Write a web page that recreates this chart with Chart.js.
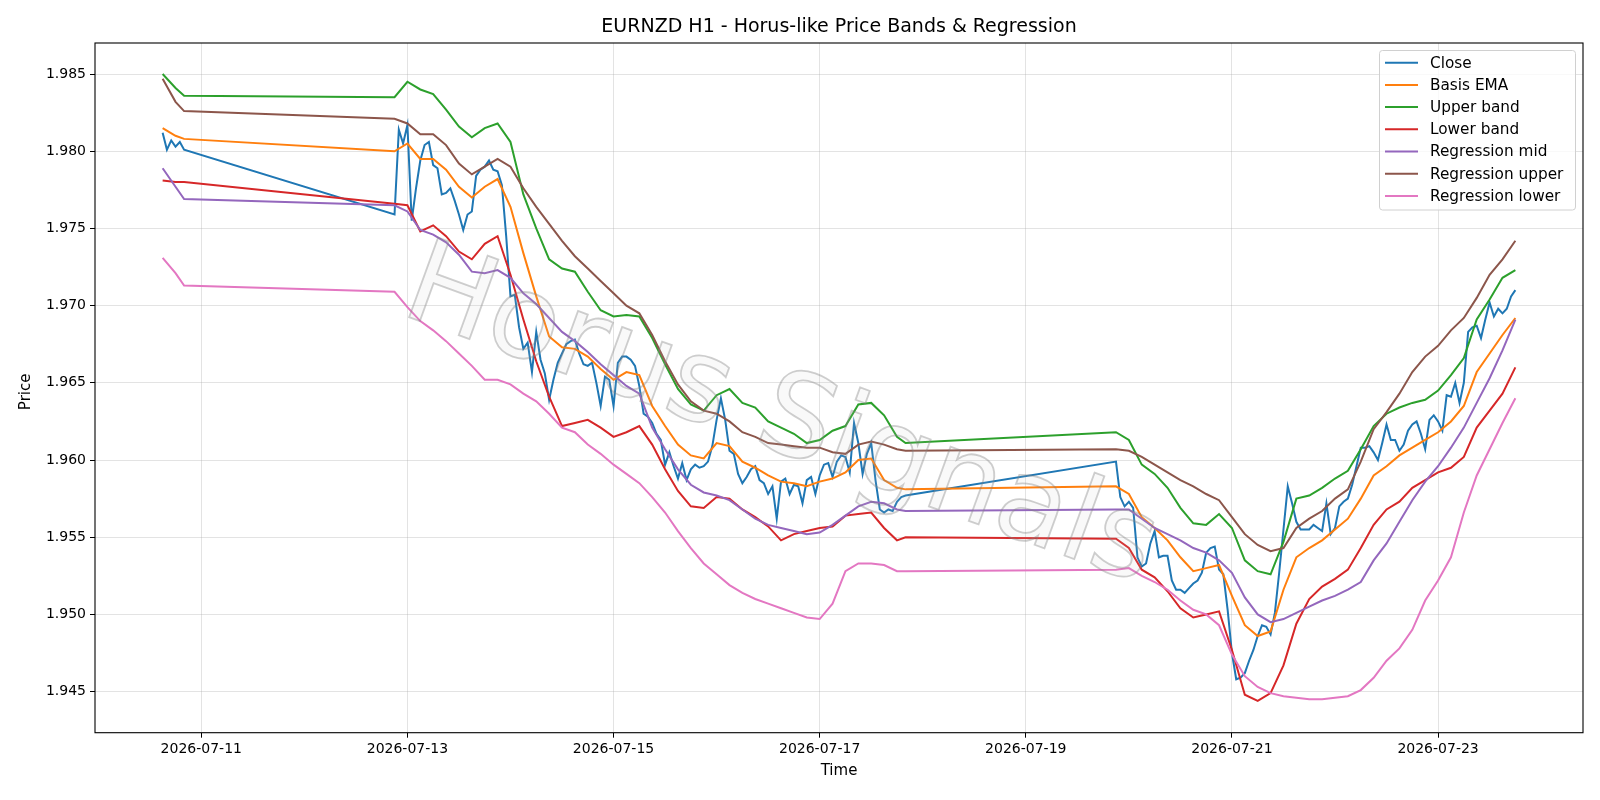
<!DOCTYPE html>
<html>
<head>
<meta charset="utf-8">
<title>EURNZD H1 - Horus-like Price Bands & Regression</title>
<script src="https://cdn.jsdelivr.net/npm/chart.js@4.4.1/dist/chart.umd.min.js"></script>
<style>
  html, body { margin: 0; padding: 0; background: #fff; }
  #wrap { width: 1600px; height: 800px; }
</style>
</head>
<body>
<div id="wrap"><canvas id="chart" width="1600" height="800"></canvas></div>
<script>
// time is counted in hours from 2026-07-10 00:00 (H1 bars, weekend gaps)
const closeSegments = [[15, 20], [69, 188], [237, 330]];

const closeValues = [
  1.9812, 1.9801, 1.9807, 1.9803, 1.9806, 1.9801,
  // 07-12 21:00 .. 07-17 20:00
  1.9759, 1.9814, 1.9805, 1.9817, 1.9755, 1.9776, 1.9794, 1.9804, 1.9806, 1.9791, 1.9789, 1.9772,
  1.9773, 1.9776, 1.9768, 1.9759, 1.9749, 1.9759, 1.9761, 1.9784, 1.9788, 1.9790, 1.9794, 1.9788,
  1.9787, 1.9778, 1.9745, 1.9706, 1.9707, 1.9686, 1.9672, 1.9676, 1.9657, 1.9683, 1.9665, 1.9656,
  1.9639, 1.9652, 1.9663, 1.9669, 1.9675, 1.9677, 1.9678, 1.9669, 1.9662, 1.9661, 1.9663, 1.9650,
  1.9635, 1.9654, 1.9652, 1.9635, 1.9663, 1.9667, 1.9667, 1.9665, 1.9661, 1.9648, 1.9630, 1.9628,
  1.9624, 1.9617, 1.9613, 1.9597, 1.9605, 1.9596, 1.9588, 1.9598, 1.9587, 1.9594, 1.9597, 1.9595,
  1.9596, 1.9599, 1.9609, 1.9626, 1.9640, 1.9626, 1.9606, 1.9604, 1.9591, 1.9585, 1.9589, 1.9594,
  1.9596, 1.9587, 1.9585, 1.9578, 1.9583, 1.9562, 1.9586, 1.9588, 1.9578, 1.9584, 1.9583, 1.9572,
  1.9587, 1.9589, 1.9578, 1.9590, 1.9597, 1.9598, 1.9589, 1.9599, 1.9603, 1.9602, 1.9592, 1.9624,
  1.9611, 1.9591, 1.9604, 1.9611, 1.9587, 1.9568, 1.9566, 1.9568, 1.9567, 1.9573, 1.9576, 1.9577,
  // 07-19 21:00 .. 07-23 18:00
  1.9599, 1.9576, 1.9570, 1.9573, 1.9569, 1.9537, 1.9531, 1.9533, 1.9546, 1.9554, 1.9537, 1.9538,
  1.9538, 1.9522, 1.9516, 1.9516, 1.9514, 1.9517, 1.9520, 1.9522, 1.9527, 1.9540, 1.9543, 1.9544,
  1.9529, 1.9526, 1.9503, 1.9475, 1.9458, 1.9459, 1.9462, 1.9470, 1.9477, 1.9486, 1.9493, 1.9492,
  1.9487, 1.9501, 1.9527, 1.9555, 1.9583, 1.9572, 1.9560, 1.9555, 1.9555, 1.9555, 1.9558, 1.9556,
  1.9554, 1.9572, 1.9552, 1.9556, 1.9570, 1.9573, 1.9575, 1.9584, 1.9596, 1.9608, 1.9608, 1.9609,
  1.9605, 1.9600, 1.9611, 1.9623, 1.9613, 1.9613, 1.9606, 1.9610, 1.9619, 1.9623, 1.9625, 1.9617,
  1.9607, 1.9626, 1.9629, 1.9625, 1.9619, 1.9642, 1.9641, 1.9650, 1.9637, 1.9650, 1.9683, 1.9686,
  1.9687, 1.9679, 1.9691, 1.9702, 1.9693, 1.9698, 1.9695, 1.9698, 1.9706, 1.9710
];

// the smoother series, read every 3 hours
const bandHours = [
  15, 18, 20,
  69, 72, 75, 78, 81, 84, 87, 90, 93, 96,
  99, 102, 105, 108, 111, 114, 117, 120, 123, 126,
  129, 132, 135, 138, 141, 144, 147, 150, 153, 156,
  159, 162, 165, 168, 171, 174, 177, 180, 183, 186, 188,
  237, 240, 243, 246, 249, 252, 255, 258, 261, 264,
  267, 270, 273, 276, 279, 282, 285, 288, 291, 294,
  297, 300, 303, 306, 309, 312, 315, 318, 321, 324, 327, 330
];

const basisEma = [
  1.9815, 1.9810, 1.9808,
  1.9800, 1.9805, 1.9795, 1.9795, 1.9788, 1.9777, 1.9770, 1.9777, 1.9782, 1.9764,
  1.9734, 1.9706, 1.9680, 1.9673, 1.9672, 1.9667, 1.9659, 1.9652, 1.9657, 1.9655,
  1.9635, 1.9622, 1.9610, 1.9603, 1.9601, 1.9611, 1.9609, 1.9599, 1.9595, 1.9590,
  1.9586, 1.9585, 1.9583, 1.9586, 1.9588, 1.9592, 1.9600, 1.9601, 1.9587, 1.9582, 1.9581,
  1.9583, 1.9578, 1.9563, 1.9556, 1.9548, 1.9537, 1.9528, 1.9530, 1.9532, 1.9512,
  1.9493, 1.9486, 1.9489, 1.9516, 1.9537, 1.9543, 1.9548, 1.9555, 1.9562, 1.9575,
  1.9590, 1.9596, 1.9603, 1.9608, 1.9613, 1.9618, 1.9625, 1.9635, 1.9657, 1.9669, 1.9681, 1.9692
];

const upperBand = [
  1.9850, 1.9841, 1.9836,
  1.9835, 1.9845, 1.9840, 1.9837, 1.9827, 1.9816, 1.9809, 1.9815, 1.9818, 1.9806,
  1.9772, 1.9750, 1.9730, 1.9724, 1.9722, 1.9709, 1.9697, 1.9693, 1.9694, 1.9693,
  1.9679, 1.9662, 1.9646, 1.9636, 1.9632, 1.9642, 1.9646, 1.9637, 1.9634, 1.9625,
  1.9621, 1.9617, 1.9611, 1.9613, 1.9619, 1.9622, 1.9636, 1.9637, 1.9629, 1.9615, 1.9611,
  1.9618, 1.9613, 1.9597, 1.9591, 1.9582, 1.9569, 1.9559, 1.9558, 1.9565, 1.9556,
  1.9535, 1.9528, 1.9526, 1.9547, 1.9575, 1.9577, 1.9582, 1.9588, 1.9593, 1.9607,
  1.9622, 1.9630, 1.9634, 1.9637, 1.9639, 1.9645, 1.9655, 1.9666, 1.9691, 1.9704, 1.9718, 1.9723
];

const lowerBand = [
  1.9781, 1.9780, 1.9780,
  1.9766, 1.9765, 1.9748, 1.9752, 1.9745, 1.9735, 1.9730, 1.9740, 1.9745, 1.9720,
  1.9691, 1.9664, 1.9641, 1.9622, 1.9624, 1.9626, 1.9621, 1.9615, 1.9618, 1.9622,
  1.9610, 1.9594, 1.9580, 1.9570, 1.9569, 1.9576, 1.9575, 1.9568, 1.9563, 1.9557,
  1.9548, 1.9552, 1.9554, 1.9556, 1.9557, 1.9564, 1.9565, 1.9566, 1.9556, 1.9548, 1.9550,
  1.9549, 1.9543, 1.9529, 1.9524, 1.9515, 1.9504, 1.9498, 1.9500, 1.9502, 1.9477,
  1.9448, 1.9444, 1.9449, 1.9467, 1.9494, 1.9510, 1.9518, 1.9523, 1.9529, 1.9543,
  1.9558, 1.9568, 1.9573, 1.9582, 1.9587, 1.9592, 1.9595, 1.9602, 1.9621, 1.9632, 1.9643, 1.9660
];

const regMid = [
  1.9789, 1.9777, 1.9769,
  1.9765, 1.9761, 1.9749, 1.9746, 1.9741, 1.9733, 1.9722, 1.9721, 1.9723, 1.9718,
  1.9708, 1.9701, 1.9692, 1.9683, 1.9677, 1.9670, 1.9662, 1.9655, 1.9648, 1.9643,
  1.9621, 1.9607, 1.9594, 1.9584, 1.9579, 1.9577, 1.9574, 1.9568, 1.9562, 1.9558,
  1.9556, 1.9554, 1.9552, 1.9553, 1.9558, 1.9564, 1.9570, 1.9573, 1.9572, 1.9568, 1.9567,
  1.9568, 1.9568, 1.9562, 1.9556, 1.9552, 1.9548, 1.9543, 1.9540, 1.9535, 1.9527,
  1.9511, 1.9500, 1.9495, 1.9497, 1.9501, 1.9505, 1.9509, 1.9512, 1.9516, 1.9521,
  1.9535, 1.9546, 1.9560, 1.9574, 1.9586, 1.9596, 1.9608, 1.9621, 1.9637, 1.9653, 1.9671, 1.9691
];

const regUpper = [
  1.9847, 1.9832, 1.9826,
  1.9821, 1.9818, 1.9811, 1.9811, 1.9804, 1.9792, 1.9785, 1.9790, 1.9795, 1.9790,
  1.9776, 1.9764, 1.9753, 1.9742, 1.9732, 1.9724, 1.9716, 1.9708, 1.9700, 1.9695,
  1.9681, 1.9664, 1.9649, 1.9638, 1.9632, 1.9630, 1.9625, 1.9618, 1.9615, 1.9611,
  1.9610, 1.9609, 1.9608, 1.9608, 1.9605, 1.9604, 1.9610, 1.9612, 1.9610, 1.9607, 1.9606,
  1.9607, 1.9606, 1.9602, 1.9597, 1.9592, 1.9587, 1.9583, 1.9578, 1.9574, 1.9563,
  1.9552, 1.9545, 1.9541, 1.9543, 1.9556, 1.9562, 1.9567, 1.9575, 1.9581, 1.9599,
  1.9620, 1.9631, 1.9643, 1.9657, 1.9667, 1.9674, 1.9684, 1.9692, 1.9705, 1.9720, 1.9730, 1.9742
];

const regLower = [
  1.9731, 1.9721, 1.9713,
  1.9709, 1.9699, 1.9690, 1.9684, 1.9677, 1.9669, 1.9661, 1.9652, 1.9652, 1.9649,
  1.9643, 1.9638, 1.9630, 1.9621, 1.9618, 1.9610, 1.9604, 1.9597, 1.9591, 1.9585,
  1.9576, 1.9566, 1.9554, 1.9543, 1.9533, 1.9526, 1.9519, 1.9514, 1.9510, 1.9507,
  1.9504, 1.9501, 1.9498, 1.9497, 1.9507, 1.9528, 1.9533, 1.9533, 1.9532, 1.9528, 1.9528,
  1.9529, 1.9530, 1.9525, 1.9521, 1.9516, 1.9509, 1.9503, 1.9500, 1.9493, 1.9474,
  1.9460, 1.9453, 1.9449, 1.9447, 1.9446, 1.9445, 1.9445, 1.9446, 1.9447, 1.9451,
  1.9459, 1.9470, 1.9478, 1.9490, 1.9509, 1.9522, 1.9537, 1.9566, 1.9590, 1.9607, 1.9624, 1.9640
];

const seriesNames = ['Close', 'Basis EMA', 'Upper band', 'Lower band', 'Regression mid', 'Regression upper', 'Regression lower'];
const seriesColors = ['#1f77b4', '#ff7f0e', '#2ca02c', '#d62728', '#9467bd', '#8c564b', '#e377c2'];

const xTickHours = [24, 72, 120, 168, 216, 264, 312];
const xTickLabels = ['2026-07-11', '2026-07-13', '2026-07-15', '2026-07-17', '2026-07-19', '2026-07-21', '2026-07-23'];
const yTicks = [1.945, 1.950, 1.955, 1.960, 1.965, 1.970, 1.975, 1.980, 1.985];

const chartTitle = 'EURNZD H1 - Horus-like Price Bands & Regression';
const FONT = '"DejaVu Sans", sans-serif';

const closeHours = [];
closeSegments.forEach(([a, b]) => {
  for (let h = a; h <= b; h++) closeHours.push(h);
});

const toPoints = (xs, ys) => xs.map((x, i) => ({ x: x, y: ys[i] }));
const allSeries = [
  toPoints(closeHours, closeValues),
  toPoints(bandHours, basisEma),
  toPoints(bandHours, upperBand),
  toPoints(bandHours, lowerBand),
  toPoints(bandHours, regMid),
  toPoints(bandHours, regUpper),
  toPoints(bandHours, regLower)
];

const datasets = allSeries.map((pts, i) => ({
  label: seriesNames[i],
  data: pts,
  borderColor: seriesColors[i],
  backgroundColor: seriesColors[i],
  borderWidth: 2,
  pointRadius: 0,
  tension: 0,
  fill: false,
  order: allSeries.length - 1 - i   // later series on top, like matplotlib
}));

const gridColor = 'rgba(176,176,176,0.35)';

const decorations = {
  id: 'decorations',
  afterDatasetsDraw(chart) {
    // watermark
    const ctx = chart.ctx;
    ctx.save();
    ctx.translate(780, 420);
    ctx.rotate(20 * Math.PI / 180);
    ctx.font = '116px ' + FONT;
    const text = 'Horus Signals';
    const w = ctx.measureText(text).width;
    ctx.scale(790 / w, 1);
    ctx.textAlign = 'center';
    ctx.textBaseline = 'middle';
    ctx.fillStyle = 'rgba(200,200,200,0.10)';
    ctx.fillText(text, 0, 0);
    ctx.lineWidth = 1.8;
    ctx.strokeStyle = 'rgba(130,130,130,0.38)';
    ctx.strokeText(text, 0, 0);
    ctx.restore();
  },
  afterDraw(chart) {
    const ctx = chart.ctx;
    const a = chart.chartArea;
    ctx.save();
    // frame on all four sides
    ctx.strokeStyle = '#000';
    ctx.lineWidth = 1.1;
    ctx.strokeRect(a.left, a.top, a.right - a.left, a.bottom - a.top);

    ctx.fillStyle = '#000';
    ctx.textAlign = 'center';
    ctx.textBaseline = 'middle';
    ctx.font = '19px ' + FONT;
    ctx.fillText(chartTitle, (a.left + a.right) / 2, 27);
    ctx.font = '15px ' + FONT;
    ctx.fillText('Time', (a.left + a.right) / 2, 771);
    ctx.save();
    ctx.translate(26, (a.top + a.bottom) / 2 + 4);
    ctx.rotate(-Math.PI / 2);
    ctx.fillText('Price', 0, 0);
    ctx.restore();

    // legend, upper right
    const lx = 1379.5, ly = 50.5, lw = 196, lh = 159.5, r = 3;
    ctx.beginPath();
    ctx.moveTo(lx + r, ly);
    ctx.arcTo(lx + lw, ly, lx + lw, ly + lh, r);
    ctx.arcTo(lx + lw, ly + lh, lx, ly + lh, r);
    ctx.arcTo(lx, ly + lh, lx, ly, r);
    ctx.arcTo(lx, ly, lx + lw, ly, r);
    ctx.closePath();
    ctx.fillStyle = 'rgba(255,255,255,0.8)';
    ctx.fill();
    ctx.strokeStyle = '#d0d0d0';
    ctx.lineWidth = 1;
    ctx.stroke();
    ctx.textAlign = 'left';
    ctx.font = '15.3px ' + FONT;
    seriesNames.forEach((name, i) => {
      const y = 62.7 + i * 22.2;
      ctx.strokeStyle = seriesColors[i];
      ctx.lineWidth = 2;
      ctx.beginPath();
      ctx.moveTo(1385, y);
      ctx.lineTo(1418, y);
      ctx.stroke();
      ctx.fillStyle = '#000';
      ctx.fillText(name, 1430, y + 1);
    });
    ctx.restore();
  }
};

Chart.defaults.font.family = FONT;
Chart.defaults.font.size = 14;
Chart.defaults.color = '#000';

new Chart(document.getElementById('chart').getContext('2d'), {
  type: 'line',
  data: { datasets: datasets },
  options: {
    responsive: false,
    animation: false,
    events: [],
    layout: { padding: { left: 0, right: 17, top: 43, bottom: 0 } },
    plugins: {
      legend: { display: false },
      title: { display: false },
      tooltip: { enabled: false }
    },
    scales: {
      x: {
        type: 'linear',
        min: -0.75,
        max: 345.75,
        afterBuildTicks: ax => { ax.ticks = xTickHours.map(v => ({ value: v })); },
        afterFit: ax => { ax.height = 67.3; },
        ticks: {
          autoSkip: false,
          maxRotation: 0,
          padding: 3,
          callback: v => xTickLabels[xTickHours.indexOf(v)]
        },
        grid: { color: gridColor, lineWidth: 1, tickLength: 5, tickColor: '#000' },
        border: { display: false }
      },
      y: {
        type: 'linear',
        min: 1.94234,
        max: 1.98701,
        afterBuildTicks: ax => { ax.ticks = yTicks.map(v => ({ value: v })); },
        afterFit: ax => { ax.width = 95; },
        ticks: {
          padding: 4,
          callback: v => v.toFixed(3)
        },
        grid: { color: gridColor, lineWidth: 1, tickLength: 5, tickColor: '#000' },
        border: { display: false }
      }
    }
  },
  plugins: [decorations]
});
</script>
</body>
</html>
